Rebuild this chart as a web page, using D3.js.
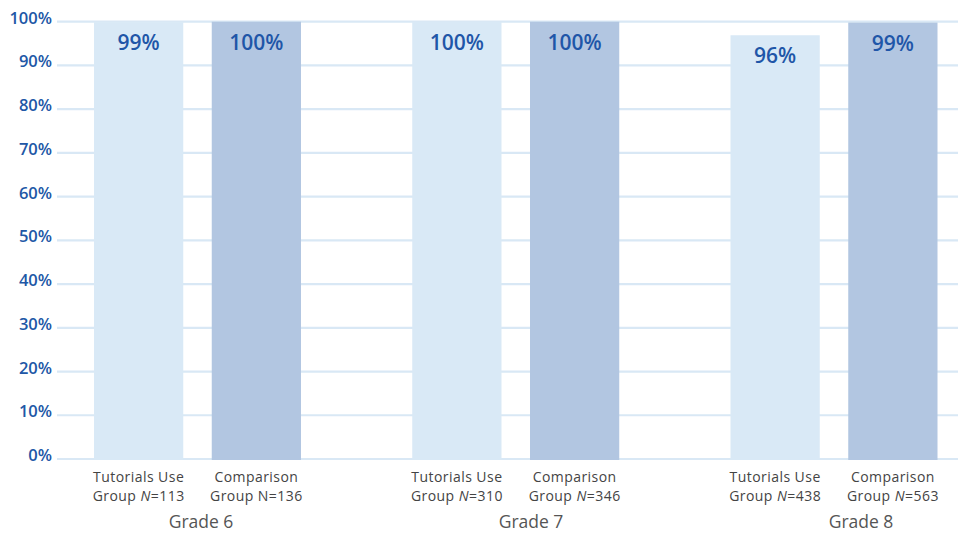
<!DOCTYPE html>
<html>
<head>
<meta charset="utf-8">
<script src="https://cdn.jsdelivr.net/npm/d3@7"></script>
<style>
html,body{margin:0;padding:0;background:#fff;}
svg{display:block;font-family:"Open Sans","Noto Sans",sans-serif;}
</style>
</head>
<body>
<svg id="chart" width="958" height="533"></svg>
<script>
const grades = ["Grade 6", "Grade 7", "Grade 8"];
const series = ["Tutorials Use", "Comparison"];
const tutorialsValues = [99.9, 100, 96.9];
const comparisonValues = [100, 100, 99.8];
const tutorialsN = [113, 310, 438];
const comparisonN = [136, 346, 563];
const tutorialsNItalic = [true, true, true];
const comparisonNItalic = [false, true, true];
const yTicks = [0, 10, 20, 30, 40, 50, 60, 70, 80, 90, 100];

const colors = {"Tutorials Use": "#d9e9f6", "Comparison": "#b2c6e1"};

const rows = [];
grades.forEach((g, i) => {
  rows.push({grade: g, s: series[0], v: tutorialsValues[i], n: tutorialsN[i], it: tutorialsNItalic[i]});
  rows.push({grade: g, s: series[1], v: comparisonValues[i], n: comparisonN[i], it: comparisonNItalic[i]});
});

const svg = d3.select("#chart");
const y = d3.scaleLinear().domain([0, 100]).range([459, 21.7]);
const x0 = d3.scalePoint().domain(grades).range([197.5, 834]);
const x1 = d3.scaleBand().domain(series).range([-103.5, 103.5]).paddingInner(0.242).paddingOuter(0);
const xg = d3.scalePoint().domain(grades).range([201, 861]);
const cx = d => x0(d.grade) + x1(d.s) + x1.bandwidth() / 2;

// gridlines
svg.append("g").selectAll("line").data(yTicks).join("line")
  .attr("x1", 57).attr("x2", 958)
  .attr("y1", d => y(d)).attr("y2", d => y(d))
  .attr("stroke", "#d9e8f5").attr("stroke-width", 2.2);

// y tick labels
svg.append("g").selectAll("text").data(yTicks).join("text")
  .attr("x", 52).attr("y", d => y(d) + 2)
  .attr("text-anchor", "end")
  .attr("font-size", 16.5).attr("font-weight", 600).attr("fill", "#2157a6")
  .text(d => d + "%");

// bars
svg.append("g").selectAll("rect").data(rows).join("rect")
  .attr("x", d => x0(d.grade) + x1(d.s))
  .attr("width", x1.bandwidth())
  .attr("y", d => y(d.v))
  .attr("height", d => y(0) - y(d.v) + 1)
  .attr("fill", d => colors[d.s]);

// value labels
svg.append("g").selectAll("text").data(rows).join("text")
  .attr("x", cx)
  .attr("y", d => y(d.v) + 28)
  .attr("text-anchor", "middle")
  .attr("font-size", 21).attr("font-weight", 600).attr("fill", "#1f56a8")
  .text(d => Math.floor(d.v) + "%");

// category labels, line 1
svg.append("g").selectAll("text").data(rows).join("text")
  .attr("x", cx).attr("y", 482)
  .attr("text-anchor", "middle")
  .attr("font-size", 14).attr("letter-spacing", 0.45).attr("fill", "#444")
  .text(d => d.s);

// category labels, line 2
const l2 = svg.append("g").selectAll("text").data(rows).join("text")
  .attr("x", cx).attr("y", 501)
  .attr("text-anchor", "middle")
  .attr("font-size", 14).attr("letter-spacing", 0.45).attr("fill", "#444");
l2.append("tspan").text("Group ");
l2.append("tspan").attr("font-style", d => d.it ? "italic" : "normal").text("N");
l2.append("tspan").text(d => "=" + d.n);

// grade labels
svg.append("g").selectAll("text").data(grades).join("text")
  .attr("x", d => xg(d)).attr("y", 528)
  .attr("text-anchor", "middle")
  .attr("font-size", 17.5).attr("fill", "#555")
  .text(d => d);
</script>
</body>
</html>
